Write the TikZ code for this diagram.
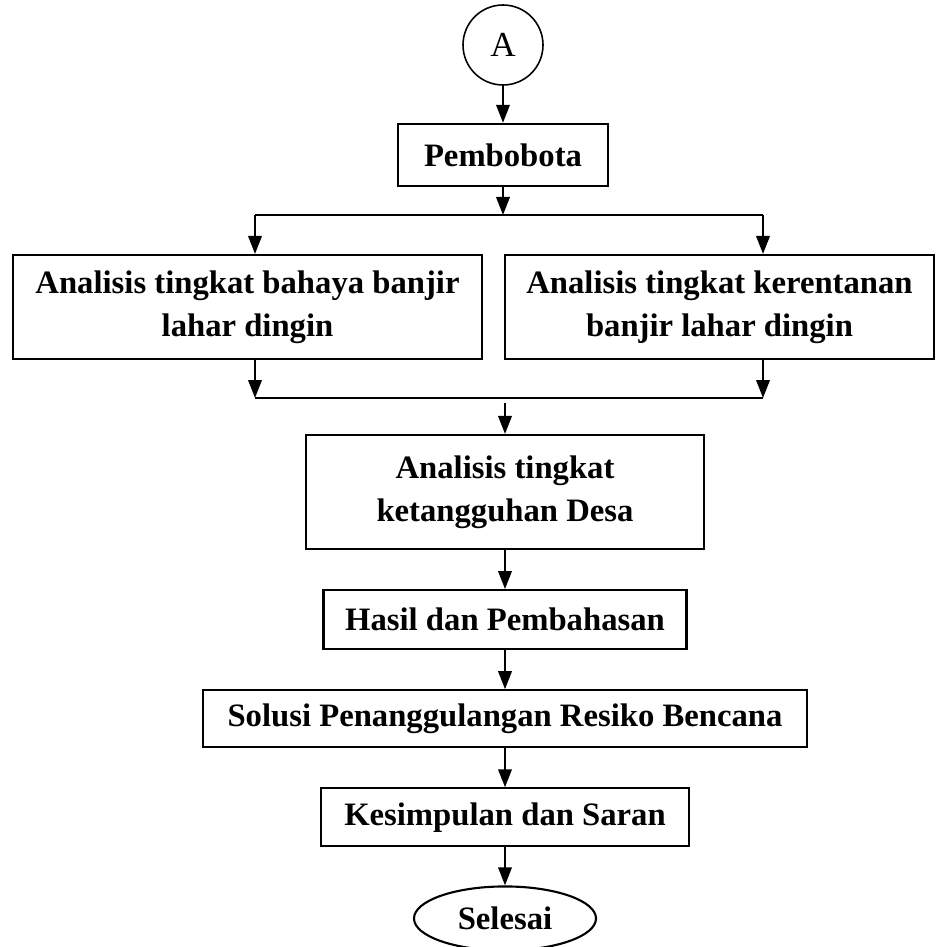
\documentclass[tikz,border=0pt]{standalone}
\usepackage{fontspec}
\setmainfont{Liberation Serif}
\usetikzlibrary{positioning, shapes.geometric, arrows.meta}

\begin{document}
\begin{tikzpicture}[
        box/.style={draw, rectangle, line width=1.2pt, align=center, inner sep=0pt, font=\bfseries\fontsize{18.6}{24.6}\selectfont},
        arrow/.style={-{Triangle[length=0.36cm, width=0.27cm]}, line width=1.2pt},
        link/.style={line width=1.2pt}
    ]
    \useasboundingbox (0,0) rectangle (18.7,-18.94);

    \node[draw, circle, line width=0.9pt, minimum size=1.6cm, font=\fontsize{20}{24}\selectfont] (start) at (10.06,-0.9) {A};
    \node[box, below=0.74cm of start, minimum width=4.2cm, minimum height=1.24cm] (bobot) {Pembobota};
    \node[box, minimum width=9.38cm, minimum height=2.08cm] (bahaya) at (4.95,-6.14) {Analisis tingkat bahaya banjir\\lahar dingin};
    \node[box, minimum width=8.58cm, minimum height=2.08cm] (rentan) at (14.39,-6.14) {Analisis tingkat kerentanan\\banjir lahar dingin};
    \node[box, minimum width=7.96cm, minimum height=2.28cm] (tangguh) at (10.1,-9.84) {Analisis tingkat\\ketangguhan Desa};
    \node[box, below=0.78cm of tangguh, minimum width=7.26cm, minimum height=1.18cm] (hasil) {Hasil dan Pembahasan};
    \node[box, below=0.78cm of hasil, minimum width=12.08cm, minimum height=1.14cm] (solusi) {Solusi Penanggulangan Resiko Bencana};
    \node[box, below=0.78cm of solusi, minimum width=7.36cm, minimum height=1.16cm] (simpul) {Kesimpulan dan Saran};
    \node[draw, ellipse, line width=1.2pt, below=0.76cm of simpul, minimum width=3.64cm, minimum height=1.28cm, inner sep=0pt, font=\bfseries\fontsize{18.6}{24.6}\selectfont] (selesai) {Selesai};

    % percabangan dan penggabungan
    \coordinate (splitL) at (5.1,-4.3);
    \coordinate (splitR) at (15.26,-4.3);
    \coordinate (mergeL) at (5.1,-7.96);
    \coordinate (mergeR) at (15.26,-7.96);

    \draw[arrow] (start) -- (bobot);
    \draw[arrow] (bobot) -- (bobot |- splitL);
    \draw[link] (splitL) -- (splitR);
    \draw[arrow] (splitL) -- (splitL |- bahaya.north);
    \draw[arrow] (splitR) -- (splitR |- rentan.north);
    \draw[arrow] (splitL |- bahaya.south) -- (mergeL);
    \draw[arrow] (splitR |- rentan.south) -- (mergeR);
    \draw[link] (mergeL) -- (mergeR);
    \draw[arrow] ([yshift=-0.1cm]mergeL -| tangguh) -- (tangguh);
    \draw[arrow] (tangguh) -- (hasil);
    \draw[arrow] (hasil) -- (solusi);
    \draw[arrow] (solusi) -- (simpul);
    \draw[arrow] (simpul) -- (selesai);
\end{tikzpicture}
\end{document}
